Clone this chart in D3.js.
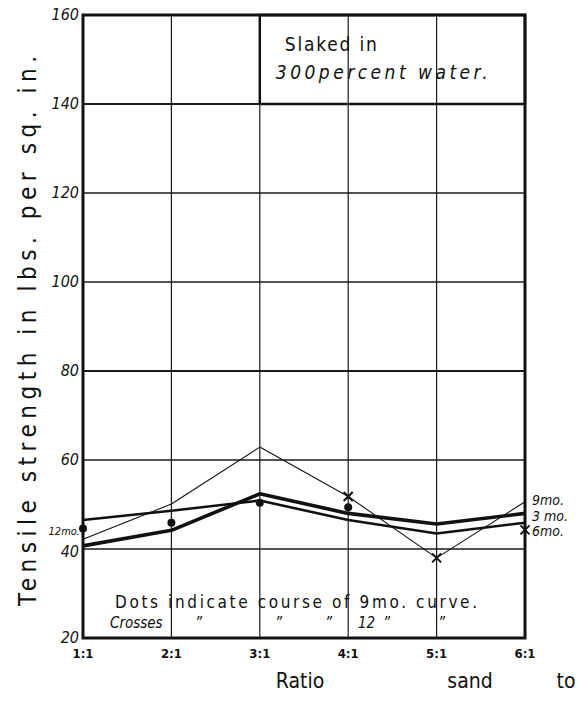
<!DOCTYPE html>
<html>
<head>
<meta charset="utf-8">
<script src="https://cdn.jsdelivr.net/npm/d3@7"></script>
<style>
	body { margin: 0; background: #fff; }
	svg text { font-family: 'DejaVu Sans Condensed', 'Liberation Sans Narrow', sans-serif; fill: #111; }
</style>
</head>
<body>
<div id="chart"></div>
<script>
// ratios of sand to cement
const ratios = ['1:1', '2:1', '3:1', '4:1', '5:1', '6:1']
const yTicks = [20, 40, 60, 80, 100, 120, 140, 160]

// tensile strength curves, lbs per sq. in.
const thinCurve = [42.2, 50.1, 62.9, 51.8, 38.0, 50.6]
const boldCurve = [40.7, 44.2, 52.4, 48.0, 45.6, 48.0]
const mediumCurve = [46.5, 48.6, 50.9, 46.5, 43.5, 45.9]

// dots = 9 mo. readings, crosses = 12 mo. readings
const dotRatios = ['1:1', '2:1', '3:1', '4:1']
const dotValues = [44.6, 45.9, 50.4, 49.4]
const crossRatios = ['4:1', '5:1', '6:1']
const crossValues = [51.8, 38.0, 44.3]

const rightLabels = ['9mo.', '3 mo.', '6mo.']
const rightLabelValues = [51.0, 47.5, 44.0]

const W = 580, H = 701
const margin = { top: 15, right: 55, bottom: 63, left: 83 }

const svg = d3.select('#chart')
	.append('svg')
	.attr('width', W)
	.attr('height', H)

const x = d3.scalePoint()
	.domain(ratios)
	.range([margin.left, W - margin.right])

const y = d3.scaleLinear()
	.domain([20, 160])
	.range([H - margin.bottom, margin.top])

// grid
svg.selectAll('.hgrid')
	.data(yTicks.filter(d => d > 20 && d < 160))
	.enter()
	.append('line')
	.attr('x1', x('1:1'))
	.attr('x2', x('6:1'))
	.attr('y1', d => y(d))
	.attr('y2', d => y(d))
	.attr('stroke', '#1a1a1a')
	.attr('stroke-width', d => d === 80 || d === 140 ? 2 : 1.3)

svg.selectAll('.vgrid')
	.data(ratios.slice(1, -1))
	.enter()
	.append('line')
	.attr('x1', d => x(d))
	.attr('x2', d => x(d))
	.attr('y1', y(160))
	.attr('y2', y(20))
	.attr('stroke', '#1a1a1a')
	.attr('stroke-width', 1.2)

// note box top right
svg.append('rect')
	.attr('x', x('3:1'))
	.attr('y', y(160))
	.attr('width', x('6:1') - x('3:1'))
	.attr('height', y(140) - y(160))
	.attr('fill', 'none')
	.attr('stroke', '#111')
	.attr('stroke-width', 2.5)

svg.append('text')
	.attr('x', x('3:1') + 25)
	.attr('y', y(160) + 36)
	.attr('font-size', 19)
	.attr('textLength', 92)
	.attr('lengthAdjust', 'spacing')
	.text('Slaked in')

svg.append('text')
	.attr('x', x('3:1') + 16)
	.attr('y', y(160) + 64)
	.attr('font-size', 19)
	.attr('font-style', 'italic')
	.attr('textLength', 212)
	.attr('lengthAdjust', 'spacing')
	.text('300percent water.')

// frame
svg.append('rect')
	.attr('x', x('1:1'))
	.attr('y', y(160))
	.attr('width', x('6:1') - x('1:1'))
	.attr('height', y(20) - y(160))
	.attr('fill', 'none')
	.attr('stroke', '#111')
	.attr('stroke-width', 3)

// curves
const line = d3.line()
	.x((d, i) => x(ratios[i]))
	.y(d => y(d))

const curves = [
	{ values: thinCurve, width: 1.1 },
	{ values: mediumCurve, width: 2.6 },
	{ values: boldCurve, width: 3.6 }
]

svg.selectAll('.curve')
	.data(curves)
	.enter()
	.append('path')
	.attr('d', d => line(d.values))
	.attr('fill', 'none')
	.attr('stroke', '#111')
	.attr('stroke-width', d => d.width)
	.attr('stroke-linejoin', 'round')

svg.selectAll('.dot')
	.data(dotValues)
	.enter()
	.append('circle')
	.attr('cx', (d, i) => x(dotRatios[i]))
	.attr('cy', d => y(d))
	.attr('r', 4)
	.attr('fill', '#111')

svg.selectAll('.cross')
	.data(crossValues)
	.enter()
	.append('path')
	.attr('d', (d, i) => {
		const cx = x(crossRatios[i]), cy = y(d), s = 4.5
		return `M${cx - s},${cy - s}L${cx + s},${cy + s}M${cx - s},${cy + s}L${cx + s},${cy - s}`
	})
	.attr('stroke', '#111')
	.attr('stroke-width', 2)

// y tick labels
svg.selectAll('.ylab')
	.data(yTicks)
	.enter()
	.append('text')
	.attr('x', x('1:1') - 4)
	.attr('y', d => y(d) + (d === 40 ? 8 : 5))
	.attr('text-anchor', 'end')
	.attr('font-size', 16)
	.attr('font-style', 'italic')
	.text(d => d)

svg.append('text')
	.attr('x', x('1:1') - 3)
	.attr('y', y(43.2))
	.attr('text-anchor', 'end')
	.attr('font-size', 11)
	.attr('font-style', 'italic')
	.text('12mo.')

// x tick labels
svg.selectAll('.xlab')
	.data(ratios)
	.enter()
	.append('text')
	.attr('x', d => x(d))
	.attr('y', y(20) + 20)
	.attr('text-anchor', 'middle')
	.attr('font-size', 13)
	.attr('font-weight', 'bold')
	.text(d => d)

// labels at right end
svg.selectAll('.rlab')
	.data(rightLabels)
	.enter()
	.append('text')
	.attr('x', x('6:1') + 7)
	.attr('y', (d, i) => y(rightLabelValues[i]) + 5)
	.attr('font-size', 14)
	.attr('font-style', 'italic')
	.text(d => d)

// axis titles
svg.append('text')
	.attr('transform', `translate(36, ${y(89)}) rotate(-90)`)
	.attr('text-anchor', 'middle')
	.attr('font-size', 24)
	.attr('textLength', 550)
	.attr('lengthAdjust', 'spacing')
	.text('Tensile   strength in lbs. per sq. in.')

const bottomWords = [['Ratio', 300], ['sand', 470], ['to', 566]]
svg.selectAll('.xtitle')
	.data(bottomWords)
	.enter()
	.append('text')
	.attr('x', d => d[1])
	.attr('y', H - 13)
	.attr('text-anchor', 'middle')
	.attr('font-size', 21)
	.text(d => d[0])

// note at bottom of plot
svg.append('text')
	.attr('x', 115)
	.attr('y', y(26.7))
	.attr('font-size', 17)
	.attr('textLength', 362)
	.attr('lengthAdjust', 'spacing')
	.text('Dots indicate course of  9mo. curve.')

const crossNote = [['Crosses', 110], ['\u201D', 195], ['\u201D', 275], ['\u201D', 325], ['12', 358], ['\u201D', 383], ['\u201D', 438]]
svg.selectAll('.note2')
	.data(crossNote)
	.enter()
	.append('text')
	.attr('x', d => d[1])
	.attr('y', y(22.2))
	.attr('font-size', 15)
	.attr('font-style', 'italic')
	.text(d => d[0])
</script>
</body>
</html>
